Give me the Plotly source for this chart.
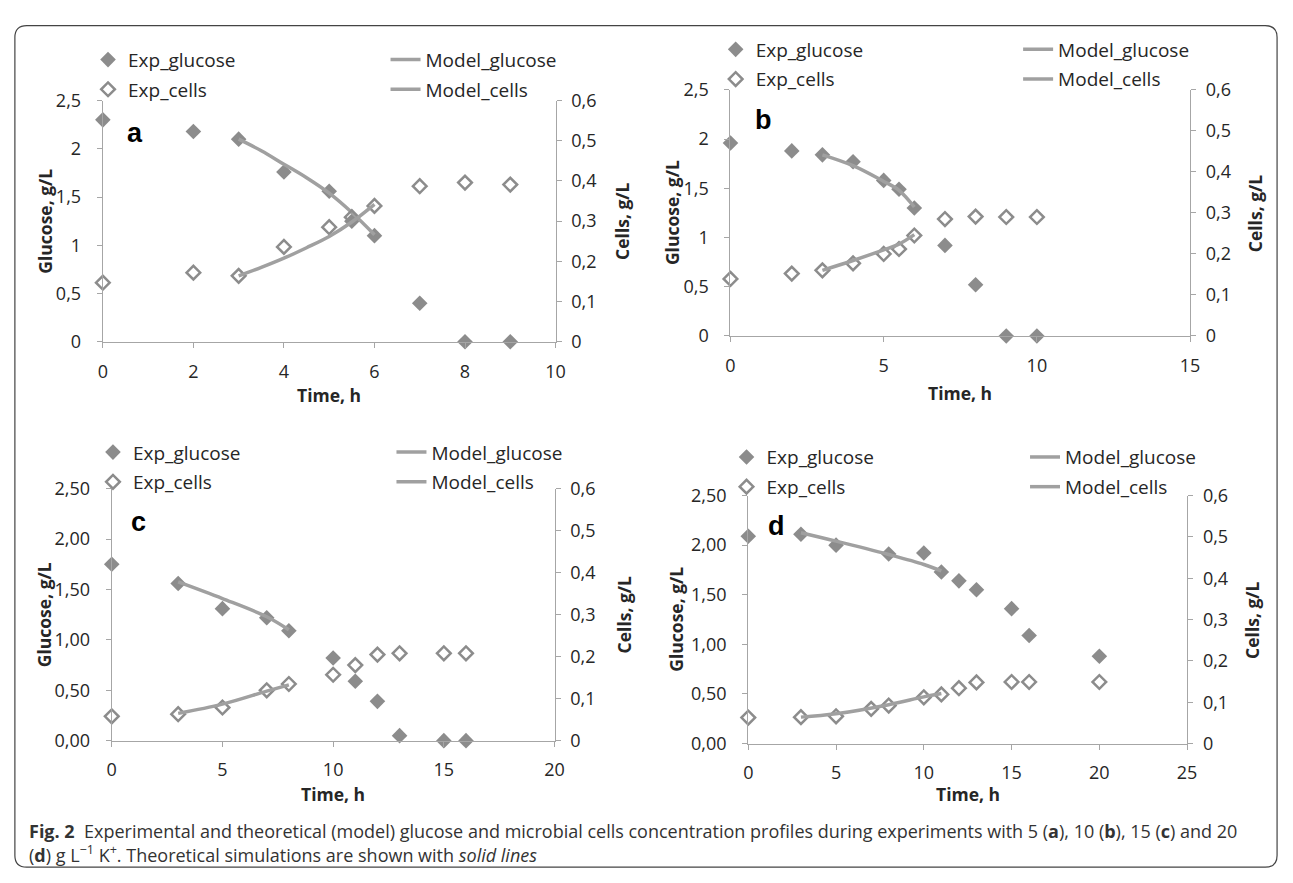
import plotly.graph_objects as go

# ---------------- data ----------------
panel_letters = ["a", "b", "c", "d"]

a_glucose_time = [0, 2, 3, 4, 5, 5.5, 6, 7, 8, 9]
a_glucose = [2.30, 2.18, 2.10, 1.76, 1.56, 1.25, 1.10, 0.40, 0.0, 0.0]
a_cells_time = [0, 2, 3, 4, 5, 5.5, 6, 7, 8, 9]
a_cells = [0.147, 0.172, 0.164, 0.236, 0.285, 0.31, 0.338, 0.387, 0.396, 0.391]
a_model_time = [3, 3.5, 4, 4.5, 5, 5.5, 6]
a_model_glucose = [2.10, 1.98, 1.84, 1.70, 1.54, 1.34, 1.11]
a_model_cells = [0.164, 0.185, 0.208, 0.234, 0.262, 0.298, 0.342]

b_glucose_time = [0, 2, 3, 4, 5, 5.5, 6, 7, 8, 9, 10]
b_glucose = [1.96, 1.88, 1.84, 1.77, 1.58, 1.49, 1.30, 0.92, 0.52, 0.0, 0.0]
b_cells_time = [0, 2, 3, 4, 5, 5.5, 6, 7, 8, 9, 10]
b_cells = [0.139, 0.152, 0.160, 0.177, 0.200, 0.212, 0.245, 0.285, 0.291, 0.290, 0.290]
b_model_time = [3, 4, 5, 5.5, 6]
b_model_glucose = [1.84, 1.73, 1.57, 1.48, 1.31]
b_model_cells = [0.160, 0.184, 0.210, 0.224, 0.247]

c_glucose_time = [0, 3, 5, 7, 8, 10, 11, 12, 13, 15, 16]
c_glucose = [1.75, 1.56, 1.31, 1.22, 1.09, 0.82, 0.59, 0.39, 0.05, 0.0, 0.0]
c_cells_time = [0, 3, 5, 7, 8, 10, 11, 12, 13, 15, 16]
c_cells = [0.058, 0.063, 0.079, 0.120, 0.135, 0.157, 0.180, 0.205, 0.208, 0.208, 0.208]
c_model_time = [3, 5, 7, 8]
c_model_glucose = [1.575, 1.41, 1.23, 1.10]
c_model_cells = [0.065, 0.087, 0.118, 0.133]

d_glucose_time = [0, 3, 5, 8, 10, 11, 12, 13, 15, 16, 20]
d_glucose = [2.09, 2.11, 2.00, 1.91, 1.92, 1.73, 1.64, 1.55, 1.36, 1.09, 0.88]
d_cells_time = [0, 3, 5, 7, 8, 10, 11, 12, 13, 15, 16, 20]
d_cells = [0.063, 0.064, 0.066, 0.084, 0.092, 0.112, 0.119, 0.134, 0.148, 0.149, 0.149, 0.149]
d_model_time = [3, 5, 8, 10, 11]
d_model_glucose = [2.125, 2.04, 1.905, 1.805, 1.74]
d_model_cells = [0.064, 0.072, 0.094, 0.113, 0.121]

x_ranges = [[0, 10], [0, 15], [0, 20], [0, 25]]
x_dticks = [2, 5, 5, 5]
glucose_tickformats = ["", "", ".2f", ".2f"]

caption_line1 = ("<b>Fig. 2</b>  Experimental and theoretical (model) glucose and microbial cells "
                 "concentration profiles during experiments with 5 (<b>a</b>), 10 (<b>b</b>), "
                 "15 (<b>c</b>) and 20")
caption_line2 = ("(<b>d</b>) g L<sup>\u22121</sup> K<sup>+</sup>. Theoretical simulations are shown "
                 "with <i>solid lines</i>")

# ---------------- layout geometry (pixels) ----------------
W, H = 1293, 883
def px(x):
    return x / W
def py(y):
    return 1 - y / H

# plot boxes: left, right, top, bottom
boxes = [(99, 557, 90, 338), (734, 1199, 79, 332), (108, 556, 489, 748), (752, 1196, 496, 751)]
# legend text starts (left col, right col), first row y
legend_pos = [(134, 435, 49.5), (769, 1075, 39), (139, 441, 453), (780, 1082, 458)]
letter_pos = [(132, 123), (767, 110), (135, 523), (781, 527)]
glu_title_x = [41, 675, 39, 678]
cell_title_x = [624, 1265, 626, 1261]
time_title_y = [393, 391, 803, 803]

FONT = "Open Sans, Noto Sans, sans-serif"
TXT = "#262626"
MARK = "#8c8c8c"
LINEC = "#a0a0a0"
AXIS = "#a6a6a6"

data_sets = [
    (a_glucose_time, a_glucose, a_cells_time, a_cells, a_model_time, a_model_glucose, a_model_cells),
    (b_glucose_time, b_glucose, b_cells_time, b_cells, b_model_time, b_model_glucose, b_model_cells),
    (c_glucose_time, c_glucose, c_cells_time, c_cells, c_model_time, c_model_glucose, c_model_cells),
    (d_glucose_time, d_glucose, d_cells_time, d_cells, d_model_time, d_model_glucose, d_model_cells),
]

fig = go.Figure()
layout = dict(
    width=W, height=H, margin=dict(l=0, r=0, t=0, b=0),
    paper_bgcolor="white", plot_bgcolor="white",
    separators=",.", showlegend=True,
    font=dict(family=FONT, color=TXT),
)
annotations = []

for i in range(4):
    gt, gv, ct, cv, mt, mg, mc = data_sets[i]
    xa = "x" if i == 0 else f"x{i + 1}"
    yl = "y" if i == 0 else f"y{2 * i + 1}"
    yr = f"y{2 * i + 2}"
    legL = "legend" if i == 0 else f"legend{2 * i + 1}"
    legR = f"legend{2 * i + 2}"

    fig.add_trace(go.Scatter(x=gt, y=gv, mode="markers", name="Exp_glucose",
                             marker=dict(symbol="diamond", size=12, color=MARK),
                             xaxis=xa, yaxis=yl, legend=legL, legendgroup=f"g{i}a", cliponaxis=False))
    fig.add_trace(go.Scatter(x=mt, y=mg, mode="lines", name="Model_glucose",
                             line=dict(color=LINEC, width=3.5, shape="spline"),
                             xaxis=xa, yaxis=yl, legend=legR, legendgroup=f"g{i}c", cliponaxis=False))
    fig.add_trace(go.Scatter(x=ct, y=cv, mode="markers", name="Exp_cells",
                             marker=dict(symbol="diamond-open", size=10.5, color=MARK,
                                         line=dict(width=2.5, color=MARK)),
                             xaxis=xa, yaxis=yr, legend=legL, legendgroup=f"g{i}b", cliponaxis=False))
    fig.add_trace(go.Scatter(x=mt, y=mc, mode="lines", name="Model_cells",
                             line=dict(color=LINEC, width=3.5, shape="spline"),
                             xaxis=xa, yaxis=yr, legend=legR, legendgroup=f"g{i}d", cliponaxis=False))

    l, r, t, b = boxes[i]
    common = dict(showline=True, linecolor=AXIS, linewidth=1.3, ticks="outside", ticklen=5,
                  tickwidth=1.3, tickcolor=AXIS, showgrid=False, zeroline=False,
                  tickfont=dict(family=FONT, size=18, color=TXT))
    xkey = "xaxis" if i == 0 else f"xaxis{i + 1}"
    ylkey = "yaxis" if i == 0 else f"yaxis{2 * i + 1}"
    yrkey = f"yaxis{2 * i + 2}"
    layout[xkey] = dict(domain=[px(l), px(r)], anchor=yl, range=x_ranges[i], tick0=0,
                        dtick=x_dticks[i], ticklabelstandoff=8, **common)
    layout[ylkey] = dict(domain=[py(b), py(t)], anchor=xa, range=[0, 2.5], tick0=0, dtick=0.5,
                         tickformat=glucose_tickformats[i], ticklabelstandoff=12, **common)
    layout[yrkey] = dict(overlaying=yl, side="right", anchor=xa, range=[0, 0.6], tick0=0,
                         dtick=0.1, ticklabelstandoff=6, **common)

    tl, tr, r1 = legend_pos[i]
    leg_common = dict(xanchor="left", yanchor="top", bgcolor="rgba(0,0,0,0)", borderwidth=0,
                      font=dict(family=FONT, size=19, color=TXT), tracegroupgap=2,
                      traceorder="grouped", orientation="v")
    layout[legL] = dict(x=px(tl - 50), y=py(r1 - 21), **leg_common)
    layout[legR] = dict(x=px(tr - 50), y=py(r1 - 21), **leg_common)

    lx, ly = letter_pos[i]
    annotations.append(dict(text=f"<b>{panel_letters[i]}</b>", x=px(lx), y=py(ly), xref="paper",
                            yref="paper", showarrow=False, xanchor="center", yanchor="middle",
                            font=dict(family="Liberation Sans, Arial, sans-serif", size=27,
                                      color="black")))
    cy = (t + b) / 2
    annotations.append(dict(text="<b>Glucose, g/L</b>", x=px(glu_title_x[i]), y=py(cy),
                            xref="paper", yref="paper", showarrow=False, textangle=-90,
                            xanchor="center", yanchor="middle",
                            font=dict(family=FONT, size=17.5, color=TXT)))
    annotations.append(dict(text="<b>Cells, g/L</b>", x=px(cell_title_x[i]), y=py(cy),
                            xref="paper", yref="paper", showarrow=False, textangle=-90,
                            xanchor="center", yanchor="middle",
                            font=dict(family=FONT, size=17.5, color=TXT)))
    annotations.append(dict(text="<b>Time, h</b>", x=px((l + r) / 2), y=py(time_title_y[i]),
                            xref="paper", yref="paper", showarrow=False,
                            xanchor="center", yanchor="middle",
                            font=dict(family=FONT, size=17.5, color=TXT)))

annotations.append(dict(text=caption_line1, x=px(22), y=py(841), xref="paper", yref="paper",
                        showarrow=False, xanchor="left", yanchor="middle",
                        font=dict(family=FONT, size=18, color="#333333")))
annotations.append(dict(text=caption_line2, x=px(22), y=py(864), xref="paper", yref="paper",
                        showarrow=False, xanchor="left", yanchor="middle",
                        font=dict(family=FONT, size=18, color="#333333")))
layout["annotations"] = annotations

# rounded frame around the figure
x0, y0, x1, y1, rr = 10, 13, 1287, 878, 12
path = (f"M {px(x0 + rr)},{py(y0)} L {px(x1 - rr)},{py(y0)} Q {px(x1)},{py(y0)} {px(x1)},{py(y0 + rr)} "
        f"L {px(x1)},{py(y1 - rr)} Q {px(x1)},{py(y1)} {px(x1 - rr)},{py(y1)} "
        f"L {px(x0 + rr)},{py(y1)} Q {px(x0)},{py(y1)} {px(x0)},{py(y1 - rr)} "
        f"L {px(x0)},{py(y0 + rr)} Q {px(x0)},{py(y0)} {px(x0 + rr)},{py(y0)} Z")
layout["shapes"] = [dict(type="path", path=path, xref="paper", yref="paper",
                         line=dict(color="#444444", width=1.2))]

fig.update_layout(**layout)
fig.write_html("out.html", config={"displayModeBar": False},
               post_script="document.body.style.margin='0';document.body.style.overflow='hidden';")
